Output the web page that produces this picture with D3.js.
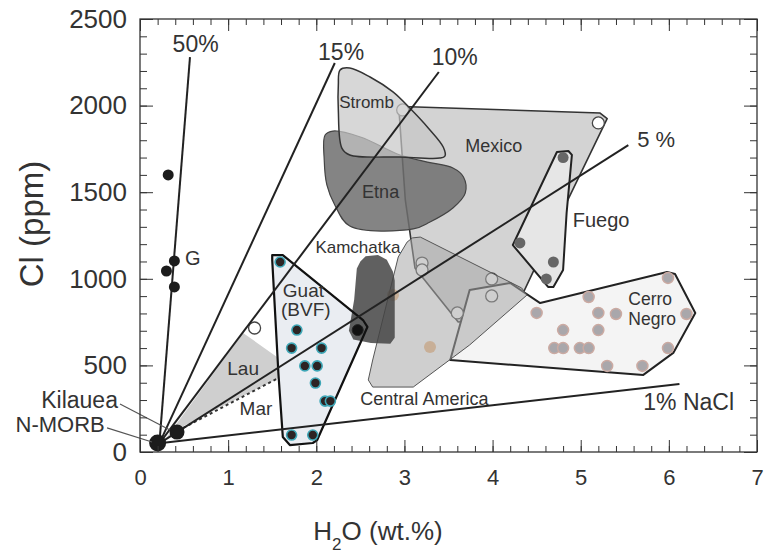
<!DOCTYPE html>
<html>
<head>
<meta charset="utf-8">
<script src="https://cdn.jsdelivr.net/npm/d3@7"></script>
<style>
  body { margin: 0; background: #fff; }
  text { font-family: "Liberation Sans", Arial, sans-serif; fill: #333; }
</style>
</head>
<body>
<div id="container"></div>
<script>
"use strict";

// axis ticks
const xTicks = [0, 1, 2, 3, 4, 5, 6, 7];
const yTicks = [0, 500, 1000, 1500, 2000, 2500];

// fields, [H2O wt.%, Cl ppm]
const lauField = [[0.28, 69], [1.17, 687], [1.57, 543], [1.71, 462], [0.45, 139]];
const marTrend = [[0.49, 139], [1.70, 462]];
const guatField = [[1.50, 1137], [1.62, 1137], [2.53, 762], [2.58, 722], [2.53, 664], [2.01, 69], [1.96, 52], [1.70, 40], [1.62, 87], [1.57, 456], [1.50, 1109]];
const mexicoField = [[2.97, 1995], [5.22, 1957], [5.30, 1925], [4.48, 1062], [4.31, 878], [4.08, 774], [3.61, 751], [3.12, 1062], [3.01, 1455], [2.94, 1960]];
const strombField = [[2.27, 2206], [2.38, 2217], [2.61, 2165], [2.87, 2079], [3.06, 1986], [3.27, 1871], [3.44, 1761], [3.46, 1709], [3.40, 1697], [2.95, 1703], [2.38, 1715], [2.29, 1755], [2.25, 1975], [2.25, 2119]];
const etnaField = [[2.10, 1830], [2.19, 1853], [2.50, 1819], [2.95, 1715], [3.26, 1674], [3.55, 1640], [3.67, 1588], [3.69, 1495], [3.55, 1409], [3.29, 1328], [3.10, 1288], [2.38, 1305], [2.21, 1426], [2.12, 1542], [2.09, 1686]];
const fuegoField = [[4.73, 1732], [4.86, 1738], [4.90, 1715], [4.84, 1380], [4.80, 1051], [4.69, 953], [4.63, 953], [4.23, 1195]];
const kamchatkaField = [[2.50, 1100], [2.56, 1130], [2.70, 1137], [2.80, 1110], [2.87, 1040], [2.89, 990], [2.89, 660], [2.84, 625], [2.62, 630], [2.42, 650], [2.37, 700], [2.43, 880], [2.46, 1060]];
const centralAmField = [[3.09, 1236], [3.18, 1241], [4.33, 947], [4.39, 906], [3.74, 618], [3.10, 375], [2.64, 375], [2.59, 416], [2.64, 531], [2.80, 860], [2.93, 1126], [3.03, 1212]];
const cerroNegroField = [[3.52, 531], [3.74, 935], [4.20, 976], [4.54, 860], [5.98, 1039], [6.07, 1028], [6.30, 803], [6.05, 572], [5.71, 445]];

// mixing lines from N-MORB
const mixStart = [0.22, 50];
const mixNames = ["50%", "15%", "10%", "5%", "1% NaCl"];
const mixEnds = [[0.567, 2280], [2.21, 2246], [3.39, 2194], [5.54, 1772], [6.12, 393]];

// samples
const nmorbPoint = [[0.20, 52]];
const kilaueaPoint = [[0.42, 115]];
const gPoints = [[0.32, 1600], [0.30, 1045], [0.39, 1103], [0.39, 953]];
const guatPoints = [[1.59, 1097], [1.78, 704], [1.72, 600], [2.06, 600], [1.87, 497], [2.01, 497], [1.99, 398], [2.10, 294], [2.16, 294], [1.72, 98], [1.96, 98]];
const kamchatkaPoints = [[2.47, 704]];
const fuegoPoints = [[4.80, 1700], [4.31, 1207], [4.69, 1097], [4.61, 999]];
const cerroNegroPoints = [[5.99, 1005], [5.09, 895], [4.50, 803], [5.20, 803], [5.40, 797], [6.20, 797], [4.80, 704], [5.20, 704], [4.70, 600], [4.80, 600], [4.99, 600], [5.09, 600], [5.99, 600], [5.30, 497], [5.70, 497]];
const centralAmPoints = [[2.87, 906], [3.29, 606]];
const strombOpenPoints = [[2.98, 1975]];
const openPoints = [[5.20, 1900], [3.20, 1091], [3.20, 1051], [3.99, 999], [3.99, 901], [3.60, 803], [1.30, 716]];

// text annotations [text, H2O, Cl, font size]
const fieldLabels = [
    ["Stromb", 2.26, 1986, 17], ["Mexico", 3.69, 1732, 18], ["Etna", 2.52, 1467, 18],
    ["Fuego", 4.91, 1299, 20], ["Kamchatka", 1.99, 1149, 17], ["Guat", 1.62, 895, 19],
    ["(BVF)", 1.60, 785, 19], ["Lau", 0.99, 445, 19], ["Mar", 1.13, 214, 19],
    ["Central America", 2.50, 271, 18], ["Cerro", 5.54, 850, 17.5], ["Negro", 5.54, 735, 17.5],
    ["1% NaCl", 5.71, 242, 23], ["5 %", 5.64, 1761, 22], ["50%", 0.37, 2309, 23],
    ["15%", 2.02, 2263, 23], ["10%", 3.31, 2234, 23], ["G", 0.51, 1080, 20]
];

const width = 764, height = 556;
const x = d3.scaleLinear().domain([0, 7]).range([140, 757]);
const y = d3.scaleLinear().domain([0, 2500]).range([452, 19]);

const svg = d3.select("#container")
    .append("svg")
    .attr("width", width)
    .attr("height", height);

const line = d3.line().x((d) => x(d[0])).y((d) => y(d[1]));
const closed = d3.line().x((d) => x(d[0])).y((d) => y(d[1])).curve(d3.curveLinearClosed);
const smooth = d3.line().x((d) => x(d[0])).y((d) => y(d[1])).curve(d3.curveCatmullRomClosed.alpha(0.5));

function field(pts, gen, fill, opacity, stroke, sw) {
    svg.append("path")
        .attr("d", gen(pts))
        .attr("fill", fill)
        .attr("fill-opacity", opacity)
        .attr("stroke", stroke)
        .attr("stroke-width", sw)
        .attr("stroke-linejoin", "round");
}

function dots(pts, r, fill, stroke, sw, opacity) {
    svg.append("g")
        .selectAll("circle")
        .data(pts)
        .join("circle")
        .attr("cx", (d) => x(d[0]))
        .attr("cy", (d) => y(d[1]))
        .attr("r", r)
        .attr("fill", fill)
        .attr("fill-opacity", opacity === undefined ? 1 : opacity)
        .attr("stroke", stroke)
        .attr("stroke-width", sw);
}

// fields
field(lauField, closed, "#cfcfcf", 1, "none", 0);
svg.append("path")
    .attr("d", line(marTrend))
    .attr("fill", "none")
    .attr("stroke", "#333")
    .attr("stroke-width", 2)
    .attr("stroke-dasharray", "3,3");
field(mexicoField, closed, "#d3d3d3", 1, "#333", 1.6);
dots(strombOpenPoints, 6, "#fff", "#555", 1.3);
field(etnaField, smooth, "#6f6f6f", 0.85, "#444", 1.2);
field(strombField, smooth, "#c6c6c6", 0.7, "#333", 1.5);
field(fuegoField, closed, "#e6e6e6", 1, "#222", 2);
field(cerroNegroField, closed, "#f4f4f4", 1, "#222", 2);
dots(cerroNegroPoints, 5.5, "#a9a7ab", "#cbaaa2", 1.5);
dots(openPoints, 6, "#fff", "#444", 1.3);
field(centralAmField, closed, "#a8a8a8", 0.55, "#555", 1);
dots(centralAmPoints, 6, "#c39a72", "none", 0, 0.6);
// Guat fill, Kamchatka over it, then the Guat outline on top
field(guatField, closed, "#eaedf2", 1, "none", 0);
field(kamchatkaField, closed, "#444", 0.85, "none", 0);
field(guatField, closed, "none", 1, "#111", 2.2);

// mixing lines
svg.append("g")
    .selectAll("path")
    .data(mixEnds)
    .join("path")
    .attr("d", (d) => line([mixStart, d]))
    .attr("stroke", "#222")
    .attr("stroke-width", 2)
    .attr("fill", "none");

// samples
dots(guatPoints, 5, "#2d2424", "#3ea7b7", 1.6);
dots(kamchatkaPoints, 5.5, "#111", "#222", 1);
dots(fuegoPoints, 5.5, "#666", "none", 0);
dots(gPoints, 5.5, "#1c1c1c", "none", 0);
dots(kilaueaPoint, 7.5, "#1c1c1c", "none", 0);
dots(nmorbPoint, 8.5, "#1c1c1c", "none", 0);

// field labels
svg.append("g")
    .selectAll("text")
    .data(fieldLabels)
    .join("text")
    .attr("x", (d) => x(d[1]))
    .attr("y", (d) => y(d[2]))
    .style("font-size", (d) => d[3] + "px")
    .text((d) => d[0]);

// Kilauea / N-MORB callouts
svg.append("path")
    .attr("d", line([[-0.227, 277], [0.34, 127]]))
    .attr("stroke", "#555").attr("stroke-width", 1.2);
svg.append("path")
    .attr("d", line([[-0.374, 139], [0.136, 58]]))
    .attr("stroke", "#555").attr("stroke-width", 1.2);
svg.append("text")
    .attr("x", x(-0.25)).attr("y", y(254))
    .attr("text-anchor", "end")
    .style("font-size", "23px")
    .text("Kilauea");
svg.append("text")
    .attr("x", x(-0.40)).attr("y", y(115))
    .attr("text-anchor", "end")
    .style("font-size", "22px")
    .text("N-MORB");

// axes: ticks inward on all four sides
function clean(g) { g.select(".domain").remove(); g.selectAll("line").attr("stroke", "#333"); }

svg.append("g").attr("transform", "translate(0,452)")
    .call(d3.axisBottom(x).ticks(35).tickSize(-6).tickFormat("")).call(clean);
svg.append("g").attr("transform", "translate(0,452)")
    .call(d3.axisBottom(x).tickValues(xTicks).tickSizeInner(-12).tickSizeOuter(0).tickPadding(17).tickFormat(d3.format("d")))
    .call(clean)
    .selectAll("text").style("font-size", "22px").attr("fill", "#333");
svg.append("g").attr("transform", "translate(0,19)")
    .call(d3.axisTop(x).ticks(35).tickSize(-6).tickFormat("")).call(clean);
svg.append("g").attr("transform", "translate(0,19)")
    .call(d3.axisTop(x).tickValues(xTicks).tickSize(-12).tickFormat("")).call(clean);

svg.append("g").attr("transform", "translate(140,0)")
    .call(d3.axisLeft(y).ticks(25).tickSize(-7).tickFormat("")).call(clean);
svg.append("g").attr("transform", "translate(140,0)")
    .call(d3.axisLeft(y).tickValues(yTicks).tickSizeInner(-13).tickSizeOuter(0).tickPadding(13).tickFormat(d3.format("d")))
    .call(clean)
    .selectAll("text").style("font-size", "26px").attr("fill", "#333");
svg.append("g").attr("transform", "translate(757,0)")
    .call(d3.axisRight(y).ticks(25).tickSize(-7).tickFormat("")).call(clean);
svg.append("g").attr("transform", "translate(757,0)")
    .call(d3.axisRight(y).tickValues(yTicks).tickSize(-13).tickFormat("")).call(clean);

// frame
svg.append("rect")
    .attr("x", 140).attr("y", 19)
    .attr("width", 617).attr("height", 433)
    .attr("fill", "none")
    .attr("stroke", "#333")
    .attr("stroke-width", 1.3);

// axis titles
const xTitle = svg.append("text")
    .attr("x", 378).attr("y", 540)
    .attr("text-anchor", "middle")
    .style("font-size", "26px");
xTitle.append("tspan").text("H");
xTitle.append("tspan").attr("dy", 10).style("font-size", "17px").text("2");
xTitle.append("tspan").attr("dy", -10).text("O (wt.%)");

svg.append("text")
    .attr("transform", "translate(43,224) rotate(-90)")
    .attr("text-anchor", "middle")
    .style("font-size", "33px")
    .text("Cl (ppm)");
</script>
</body>
</html>
